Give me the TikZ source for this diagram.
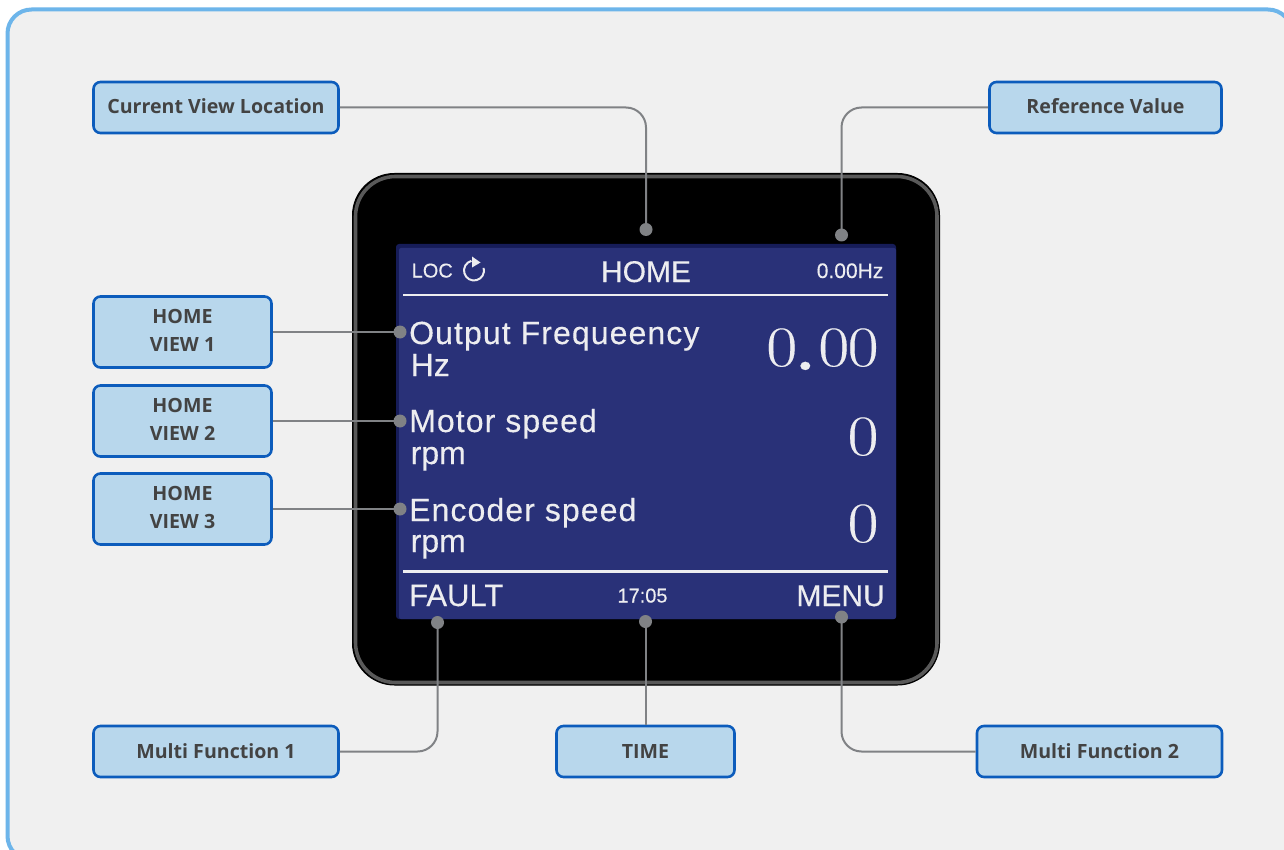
\documentclass[tikz,border=0pt]{standalone}
\usepackage{fontspec}
\newfontfamily\osf{Open Sans}
\newfontfamily\lcd[FakeBold=0.3]{Liberation Sans}
\newfontfamily\lcdw[LetterSpace=3.4,FakeBold=0.3]{Liberation Sans}
\newfontfamily\numf[FakeBold=0.3,FakeStretch=1.18]{Latin Modern Roman}
\definecolor{panelfill}{HTML}{F0F0F0}
\definecolor{panelline}{HTML}{6DB5EA}
\definecolor{boxfill}{HTML}{B8D7EC}
\definecolor{boxline}{HTML}{0C5CBC}
\definecolor{boxtext}{HTML}{434343}
\definecolor{conn}{HTML}{808285}
\definecolor{screen}{HTML}{293178}
\definecolor{screenedge}{HTML}{161C58}
\definecolor{lcdtext}{HTML}{EDEDF0}
\newcommand{\twolines}[2]{\raisebox{1.5pt}{\begin{tabular}{@{}c@{}}#1\\#2\end{tabular}}}
\tikzset{
  x=1pt,y=-1pt,
  lab/.style={draw=boxline,line width=2.6pt,fill=boxfill,rounded corners=7pt,inner sep=0pt,
    text=boxtext,font=\osf\fontsize{19.6}{28.5}\selectfont\bfseries},
  labone/.style={lab,minimum height=51pt,text height=17pt,text depth=4pt},
  labtwo/.style={lab,minimum width=178pt,minimum height=71pt},
  conline/.style={draw=conn,line width=2pt,rounded corners=20pt},
  dotn/.style={circle,fill=conn,inner sep=0pt,minimum size=13pt},
  lcdl/.style={text=lcdtext,inner sep=0pt,anchor=base west,font=\lcd\fontsize{32}{32}\selectfont},
  lcdwide/.style={lcdl,font=\lcdw\fontsize{32}{32}\selectfont},
  lcdr/.style={text=lcdtext,inner sep=0pt,anchor=base east,font=\numf\fontsize{57}{57}\selectfont},
  rulel/.style={draw=lcdtext,line width=2.4pt}
}
\begin{document}
\begin{tikzpicture}
\useasboundingbox (0,0) rectangle (1284,850);
\fill[white] (0,0) rectangle (1284,850);
\begin{scope}
\clip (0,0) rectangle (1284,850);
\draw[draw=panelline,fill=panelfill,line width=4pt,rounded corners=24pt] (7.5,9.5) rectangle (1292,860);
\end{scope}
% device
\draw[fill=black,draw=black,line width=1pt,rounded corners=42pt] (352.5,173.5) rectangle (939.5,685);
\draw[draw=black!65,line width=3.6pt,rounded corners=40pt] (355.5,176.5) rectangle (937,682.5);
\fill[screenedge,rounded corners=3pt] (396,244) rectangle (896,619);
\fill[screen,rounded corners=2pt] (399,248) rectangle (896,619);
% screen contents
\draw[rulel] (403,295) -- (888,295);
\draw[rulel] (403,571.5) -- (888,571.5);
\node[lcdl,font=\lcd\fontsize{20}{20}\selectfont] (loc) at (411.5,277.5) {LOC};
\draw[lcdtext,line width=2pt] (474,270.5) ++(-15:10) arc[start angle=-15,end angle=255,radius=10];
\fill[lcdtext] (472,256.5) -- (480.5,262.5) -- (472,267.5) -- cycle;
\node[text=lcdtext,inner sep=0pt,anchor=base,font=\lcd\fontsize{30}{30}\selectfont] (home) at (646,282) {HOME};
\node[text=lcdtext,inner sep=0pt,anchor=base east,font=\lcd\fontsize{21}{21}\selectfont] (ref) at (883.5,278) {0.00Hz};
\node[lcdwide] (v1) at (409,344) {Output Frequeency};
\node[lcdl] (u1) at (410.5,376) {Hz};
\node[lcdwide] (v2) at (409,432) {Motor speed};
\node[lcdl] (u2) at (410.5,464) {rpm};
\node[lcdwide] (v3) at (409,521) {Encoder speed};
\node[lcdl] (u3) at (410.5,552) {rpm};
\node[lcdr] (n1) at (878.7,366) {0\kern-2.4pt\raisebox{-4pt}{\bfseries .}\kern2.5pt 0\kern-1.6pt 0};
\node[lcdr] (n2) at (878.7,455) {0};
\node[lcdr] (n3) at (878.7,542) {0};
\node[lcdl,font=\lcd\fontsize{31}{31}\selectfont] (fault) at (409,606) {FAULT};
\node[text=lcdtext,inner sep=0pt,anchor=base,font=\lcd\fontsize{20}{20}\selectfont] (time) at (642.5,602.5) {17:05};
\node[text=lcdtext,inner sep=0pt,anchor=base east,font=\lcd\fontsize{30}{30}\selectfont] (menu) at (885,606) {MENU};
% labels
\node[labone,minimum width=245pt] (cv) at (216,107.5) {Current View Location};
\node[labone,minimum width=232pt] (rv) at (1105.5,107.5) {Reference Value};
\node[labtwo] (h1) at (182.5,332) {\twolines{HOME}{VIEW 1}};
\node[labtwo] (h2) at (182.5,421) {\twolines{HOME}{VIEW 2}};
\node[labtwo] (h3) at (182.5,509) {\twolines{HOME}{VIEW 3}};
\node[labone,minimum width=245pt] (m1) at (216,751.5) {Multi Function 1};
\node[labone,minimum width=178pt] (tm) at (645.5,751.5) {TIME};
\node[labone,minimum width=245pt] (m2) at (1099.5,751.5) {Multi Function 2};
% dots
\node[dotn] (d1) at (646,229.5) {};
\node[dotn] (d2) at (841.5,235) {};
\node[dotn] (d3) at (400,332) {};
\node[dotn] (d4) at (400,421) {};
\node[dotn] (d5) at (400,509) {};
\node[dotn] (d6) at (437.5,622.5) {};
\node[dotn] (d7) at (645.5,621.5) {};
\node[dotn] (d8) at (841.5,617) {};
% connectors
\draw[conline] (cv.east) -| (d1.center);
\draw[conline] (rv.west) -| (d2.center);
\draw[conline] (h1.east) -- (d3.center);
\draw[conline] (h2.east) -- (d4.center);
\draw[conline] (h3.east) -- (d5.center);
\draw[conline] (m1.east) -| (d6.center);
\draw[conline] (tm.north) -- (d7.center);
\draw[conline] (m2.west) -| (d8.center);
\end{tikzpicture}
\end{document}
